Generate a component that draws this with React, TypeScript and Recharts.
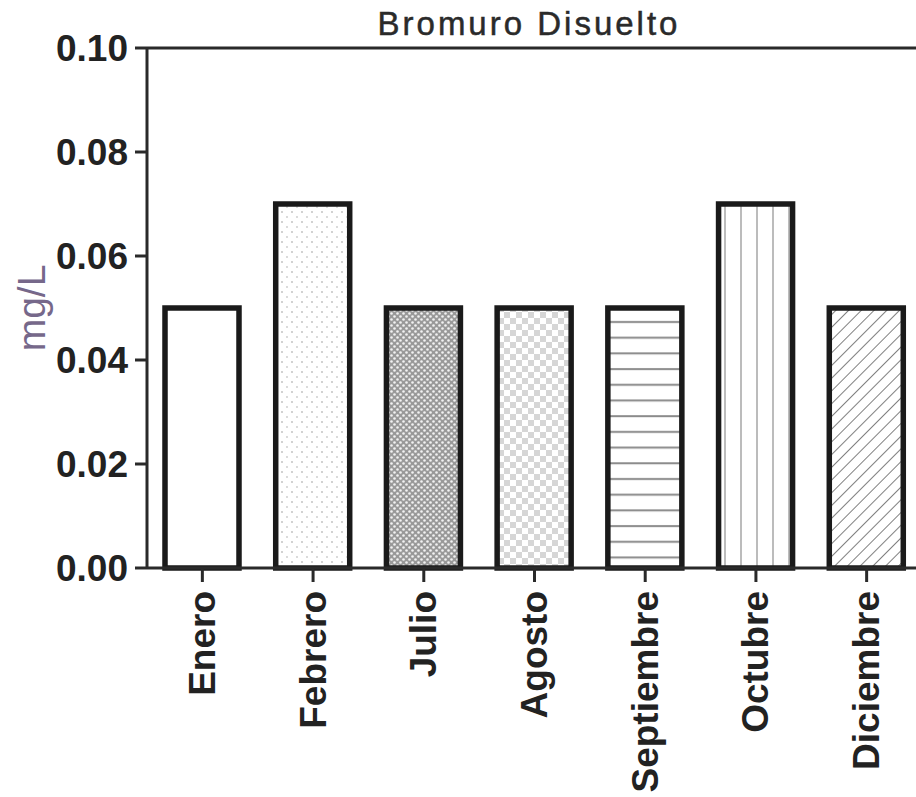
import React from 'react';
import { BarChart, Bar, XAxis, YAxis, Cell, ReferenceLine } from 'recharts';

const months = ['Enero', 'Febrero', 'Julio', 'Agosto', 'Septiembre', 'Octubre', 'Diciembre'];
const bromuro = [0.05, 0.07, 0.05, 0.05, 0.05, 0.07, 0.05];
const yTicks = [0, 0.02, 0.04, 0.06, 0.08, 0.1];
const fills = ['#ffffff', 'url(#pDots)', 'url(#pDense)', 'url(#pCheck)', 'url(#pHoriz)', 'url(#pVert)', 'url(#pDiag)'];

const data = months.map((m, i) => ({ month: m, value: bromuro[i] }));

const FONT = '"Liberation Sans", Arial, sans-serif';

const MonthTick = (props: any) => {
    const { x, y, payload } = props;
    return (
        <text
            x={x}
            y={y}
            transform={`rotate(-90, ${x}, ${y})`}
            textAnchor="end"
            dominantBaseline="central"
            fontFamily={FONT}
            fontWeight="bold"
            fontSize={37}
            fill="#222"
        >
            {payload.value}
        </text>
    );
};

const UnitLabel = (props: any) => {
    const vb = props.viewBox || { y: 48, height: 520 };
    const cy = vb.y + vb.height / 2;
    return (
        <text
            x={31}
            y={cy}
            transform={`rotate(-90, 31, ${cy})`}
            textAnchor="middle"
            dominantBaseline="central"
            fontFamily={FONT}
            fontSize={39}
            fill="#76688a"
        >
            mg/L
        </text>
    );
};

export default function App() {
    return (
        <div style={{ position: 'absolute', left: 0, top: 0, width: 916, height: 797, overflow: 'hidden', background: '#fff' }}>
            <div
                style={{
                    position: 'absolute',
                    left: 0,
                    width: 1058,
                    top: 5,
                    textAlign: 'center',
                    fontFamily: FONT,
                    fontSize: 33,
                    letterSpacing: 3,
                    color: '#2a2a2a',
                    WebkitTextStroke: '0.5px #2a2a2a',
                }}
            >
                Bromuro Disuelto
            </div>
            <BarChart width={922} height={797} data={data} margin={{ top: 48, right: 0, bottom: 0, left: 0 }}>
                <defs>
                    <pattern id="pDots" width="10" height="10" patternUnits="userSpaceOnUse">
                        <rect width="10" height="10" fill="#fff" />
                        <circle cx="2" cy="2" r="0.9" fill="#bdbdbd" />
                        <circle cx="7" cy="7" r="0.9" fill="#cacaca" />
                    </pattern>
                    <pattern id="pDense" width="6" height="6" patternUnits="userSpaceOnUse">
                        <rect width="6" height="6" fill="#999" />
                        <circle cx="1.5" cy="1.5" r="1.3" fill="#f2f2f2" />
                        <circle cx="4.5" cy="4.5" r="1.3" fill="#f2f2f2" />
                    </pattern>
                    <pattern id="pCheck" width="12" height="12" patternUnits="userSpaceOnUse">
                        <rect width="12" height="12" fill="#fff" />
                        <rect x="0" y="0" width="6" height="6" fill="#d6d6d6" />
                        <rect x="6" y="6" width="6" height="6" fill="#d6d6d6" />
                    </pattern>
                    <pattern id="pHoriz" width="16" height="15.7" patternUnits="userSpaceOnUse">
                        <rect width="16" height="15.7" fill="#fff" />
                        <line x1="0" y1="8" x2="16" y2="8" stroke="#8a8a8a" strokeWidth="2" />
                    </pattern>
                    <pattern id="pVert" width="16" height="16" patternUnits="userSpaceOnUse">
                        <rect width="16" height="16" fill="#fff" />
                        <line x1="5" y1="0" x2="5" y2="16" stroke="#bcbcbc" strokeWidth="2" />
                    </pattern>
                    <pattern id="pDiag" width="9" height="9" patternUnits="userSpaceOnUse" patternTransform="rotate(45)">
                        <rect width="9" height="9" fill="#fff" />
                        <line x1="0" y1="0" x2="0" y2="9" stroke="#808080" strokeWidth="2" />
                    </pattern>
                </defs>
                <XAxis
                    dataKey="month"
                    height={229}
                    axisLine={{ stroke: '#2a2a2a', strokeWidth: 3 }}
                    tickLine={{ stroke: '#2a2a2a', strokeWidth: 3 }}
                    tickSize={14}
                    tickMargin={9}
                    interval={0}
                    tick={<MonthTick />}
                />
                <YAxis
                    width={147}
                    domain={[0, 0.1]}
                    ticks={yTicks}
                    tickFormatter={(v: number) => v.toFixed(2)}
                    axisLine={{ stroke: '#2a2a2a', strokeWidth: 3 }}
                    tickLine={{ stroke: '#2a2a2a', strokeWidth: 3 }}
                    tickSize={12}
                    tickMargin={7}
                    tick={{ fontFamily: FONT, fontWeight: 'bold', fontSize: 37, fill: '#222' }}
                    label={{ content: <UnitLabel /> }}
                />
                <ReferenceLine y={0.1} stroke="#2a2a2a" strokeWidth={3} />
                <Bar dataKey="value" barSize={74} stroke="#1a1a1a" strokeWidth={5.5} isAnimationActive={false}>
                    {data.map((d, i) => (
                        <Cell key={`cell-${i}`} fill={fills[i]} />
                    ))}
                </Bar>
            </BarChart>
        </div>
    );
}
